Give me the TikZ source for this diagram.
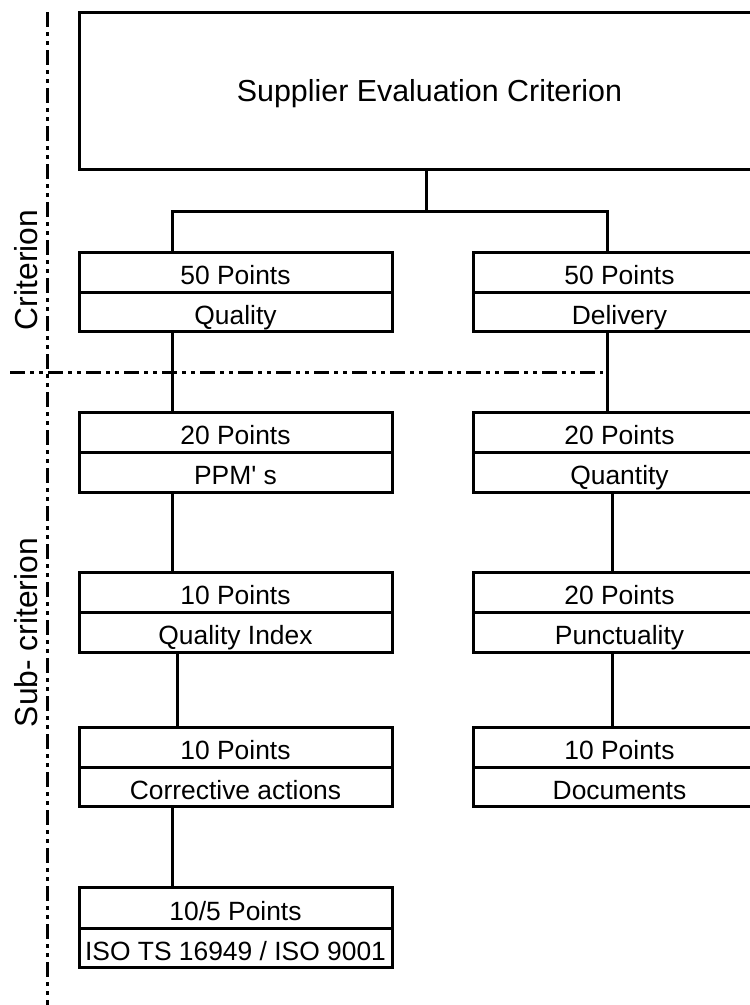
\documentclass[tikz,border=0pt]{standalone}
\usepackage{fontspec}
\setmainfont{Liberation Sans}[Ligatures=TeXOff]
\begin{document}
\begin{tikzpicture}[x=1pt,y=1pt,
  cell/.style={draw, line width=3pt, inner sep=0pt, outer sep=0pt,
    text height=25pt, text depth=0pt, font=\fontsize{26.4}{31}\selectfont},
  lcell/.style={cell, minimum width=313pt},
  rcell/.style={cell, minimum width=293pt},
  conn/.style={line width=3pt},
  sepline/.style={line width=3pt, dash pattern=on 15pt off 5pt on 4pt off 5pt on 4pt off 5pt},
  side/.style={rotate=90, anchor=base, inner sep=0pt, font=\fontsize{31.8}{37}\selectfont}]
\useasboundingbox (0,0) rectangle (750,-1005);
\clip (0,0) rectangle (750,-1005);

% separators
\coordinate (vtop) at (47,-12);
\coordinate (vbot) at (47,-1005);
\coordinate (hl) at (10,-372);
\coordinate (hr) at (603,-372);
\draw[sepline] (vtop) -- (vbot);
\draw[sepline] (hl) -- (hr);

% side labels
\node[side] (crit) at (37,-270) {Criterion};
\node[side] (sub) at (37,-632.5) {Sub- criterion};

% title box
\node[cell, minimum width=701pt, minimum height=157pt, text height=22pt,
  font=\fontsize{30.4}{36}\selectfont] (top) at (429.5,-90.5) {Supplier Evaluation Criterion};

% row 1
\node[lcell, minimum height=40pt] (q1) at (235.5,-272) {50 Points};
\node[lcell, minimum height=39pt] (q2) at (235.5,-311.5) {Quality};
\node[rcell, minimum height=40pt] (d1) at (619.5,-272) {50 Points};
\node[rcell, minimum height=39pt] (d2) at (619.5,-311.5) {Delivery};
% row 2
\node[lcell, minimum height=40pt] (p1) at (235.5,-432) {20 Points};
\node[lcell, minimum height=40pt] (p2) at (235.5,-472) {PPM' s};
\node[rcell, minimum height=40pt] (n1) at (619.5,-432) {20 Points};
\node[rcell, minimum height=40pt] (n2) at (619.5,-472) {Quantity};
% row 3
\node[lcell, minimum height=40pt] (qi1) at (235.5,-592) {10 Points};
\node[lcell, minimum height=40pt] (qi2) at (235.5,-632) {Quality Index};
\node[rcell, minimum height=40pt] (pu1) at (619.5,-592) {20 Points};
\node[rcell, minimum height=40pt] (pu2) at (619.5,-632) {Punctuality};
% row 4
\node[lcell, minimum height=40pt] (ca1) at (235.5,-747) {10 Points};
\node[lcell, minimum height=39pt] (ca2) at (235.5,-786.5) {Corrective actions};
\node[rcell, minimum height=40pt] (do1) at (619.5,-747) {10 Points};
\node[rcell, minimum height=39pt] (do2) at (619.5,-786.5) {Documents};
% row 5
\node[lcell, minimum height=41pt] (iso1) at (235.5,-907.5) {10/5 Points};
\node[lcell, minimum height=39pt] (iso2) at (235.5,-947.5) {ISO TS 16949 / ISO 9001};

% connector positions
\coordinate (tx) at (426,0);
\coordinate (lx) at (172.5,0);
\coordinate (lx2) at (172,0);
\coordinate (lx3) at (177,0);
\coordinate (rx) at (607,0);
\coordinate (rx2) at (612,0);
\coordinate (hub) at (0,-211);

\draw[conn] (top.south -| tx) -- (tx |- hub);
\draw[conn] (q1.north -| lx) -- (lx |- hub) -- (rx |- hub) -- (d1.north -| rx);
\draw[conn] (q2.south -| lx) -- (p1.north -| lx);
\draw[conn] (d2.south -| rx) -- (n1.north -| rx);
\draw[conn] (p2.south -| lx2) -- (qi1.north -| lx2);
\draw[conn] (n2.south -| rx2) -- (pu1.north -| rx2);
\draw[conn] (qi2.south -| lx3) -- (ca1.north -| lx3);
\draw[conn] (pu2.south -| rx2) -- (do1.north -| rx2);
\draw[conn] (ca2.south -| lx2) -- (iso1.north -| lx2);
\end{tikzpicture}
\end{document}
